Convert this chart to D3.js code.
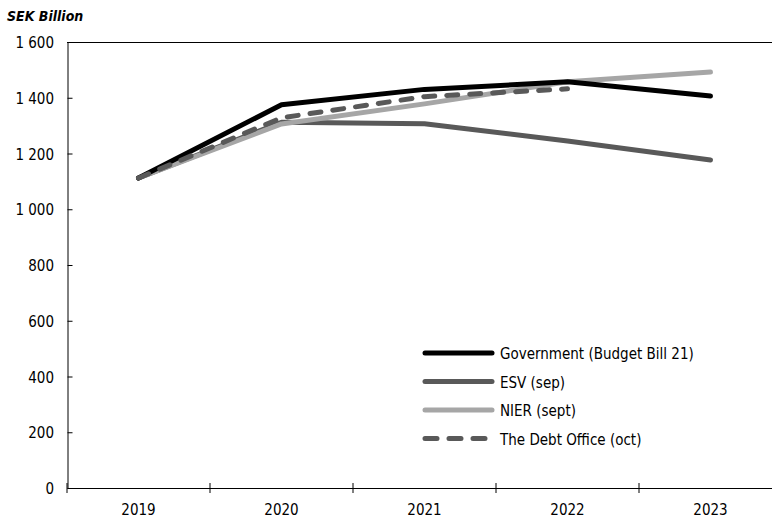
<!DOCTYPE html>
<html>
<head>
<meta charset="utf-8">
<script src="https://cdn.jsdelivr.net/npm/d3@7"></script>
<style>
  body { margin: 0; background: #fff; }
  text { font-family: "Liberation Sans Narrow", "DejaVu Sans Condensed", sans-serif; fill: #000; }
</style>
</head>
<body>
<div id="chart"></div>
<script>
var years = ["2019", "2020", "2021", "2022", "2023"];
var government = [1112, 1375, 1430, 1457, 1406];
var esv = [1112, 1312, 1307, 1245, 1177];
var nier = [1112, 1306, 1378, 1457, 1492];
var debtOffice = [1112, 1328, 1404, 1432];
var seriesNames = ["Government (Budget Bill 21)", "ESV (sep)", "NIER (sept)", "The Debt Office (oct)"];
var yTicks = [0, 200, 400, 600, 800, 1000, 1200, 1400, 1600];

var width = 772, height = 519;
var plotLeft = 67, plotTop = 42, plotBottom = 488, plotRight = 782;

var svg = d3.select("#chart").append("svg")
    .attr("width", width)
    .attr("height", height);

var x = d3.scaleBand().domain(years).range([plotLeft, plotRight]);
var y = d3.scaleLinear().domain([0, 1600]).range([plotBottom, plotTop]);

// top border of plot area
svg.append("line")
  .attr("x1", plotLeft).attr("x2", width)
  .attr("y1", y(1600) + 0.5).attr("y2", y(1600) + 0.5)
  .attr("stroke", "#000").attr("stroke-width", 1);

// y axis
var yAxis = svg.append("g")
  .attr("transform", "translate(" + (plotLeft + 0.5) + ",0)")
  .call(d3.axisRight(y).tickValues(yTicks).tickSize(5).tickFormat(""));
yAxis.select(".domain").attr("stroke", "#000");
yAxis.selectAll(".tick line").attr("stroke", "#000");

svg.selectAll(".ylab")
  .data(yTicks)
  .enter().append("text")
  .attr("class", "ylab")
  .attr("x", 54)
  .attr("y", function(d) { return y(d) + 6; })
  .attr("text-anchor", "end")
  .style("font-size", "15px")
  .text(function(d) { return d3.format(",")(d).replace(",", " "); });

// x axis
var xAxis = svg.append("g")
  .attr("transform", "translate(0," + plotBottom + ")")
  .call(d3.axisBottom(x).tickSize(0).tickFormat(""));
xAxis.select(".domain").attr("stroke", "#000");

var boundaries = years.map(function(d) { return x(d); }).concat([plotRight]);
svg.selectAll(".xtick")
  .data(boundaries)
  .enter().append("line")
  .attr("class", "xtick")
  .attr("x1", function(d) { return d; })
  .attr("x2", function(d) { return d; })
  .attr("y1", plotBottom - 5)
  .attr("y2", plotBottom + 5)
  .attr("stroke", "#000");

svg.selectAll(".xlab")
  .data(years)
  .enter().append("text")
  .attr("class", "xlab")
  .attr("x", function(d) { return x(d) + x.bandwidth() / 2; })
  .attr("y", 515)
  .attr("text-anchor", "middle")
  .style("font-size", "15px")
  .text(function(d) { return d; });

// title
svg.append("text")
  .attr("x", 7)
  .attr("y", 21)
  .style("font-size", "14px")
  .style("font-weight", "bold")
  .style("font-style", "italic")
  .text("SEK Billion");

var line = d3.line()
  .x(function(d, i) { return x(years[i]) + x.bandwidth() / 2; })
  .y(function(d) { return y(d); });

var series = [
  { name: seriesNames[1], values: esv, color: "#595959", dash: null },
  { name: seriesNames[2], values: nier, color: "#a6a6a6", dash: null },
  { name: seriesNames[0], values: government, color: "#000000", dash: null },
  { name: seriesNames[3], values: debtOffice, color: "#595959", dash: "11,12" }
];

svg.selectAll(".series")
  .data(series)
  .enter().append("path")
  .attr("class", "series")
  .attr("d", function(d) { return line(d.values); })
  .attr("fill", "none")
  .attr("stroke", function(d) { return d.color; })
  .attr("stroke-width", 5)
  .attr("stroke-linecap", "round")
  .attr("stroke-linejoin", "round")
  .attr("stroke-dasharray", function(d) { return d.dash; });

// legend
var legendOrder = [series[2], series[0], series[1], series[3]];
var lg = svg.selectAll(".legend")
  .data(legendOrder)
  .enter().append("g")
  .attr("class", "legend")
  .attr("transform", function(d, i) { return "translate(425," + (353 + i * 28.5) + ")"; });

lg.append("line")
  .attr("x1", 0).attr("x2", 67)
  .attr("stroke", function(d) { return d.color; })
  .attr("stroke-width", 5)
  .attr("stroke-linecap", "round")
  .attr("stroke-dasharray", function(d) { return d.dash ? "12,12" : null; });

lg.append("text")
  .attr("x", 75)
  .attr("y", 6)
  .style("font-size", "15px")
  .text(function(d) { return d.name; });
</script>
</body>
</html>
